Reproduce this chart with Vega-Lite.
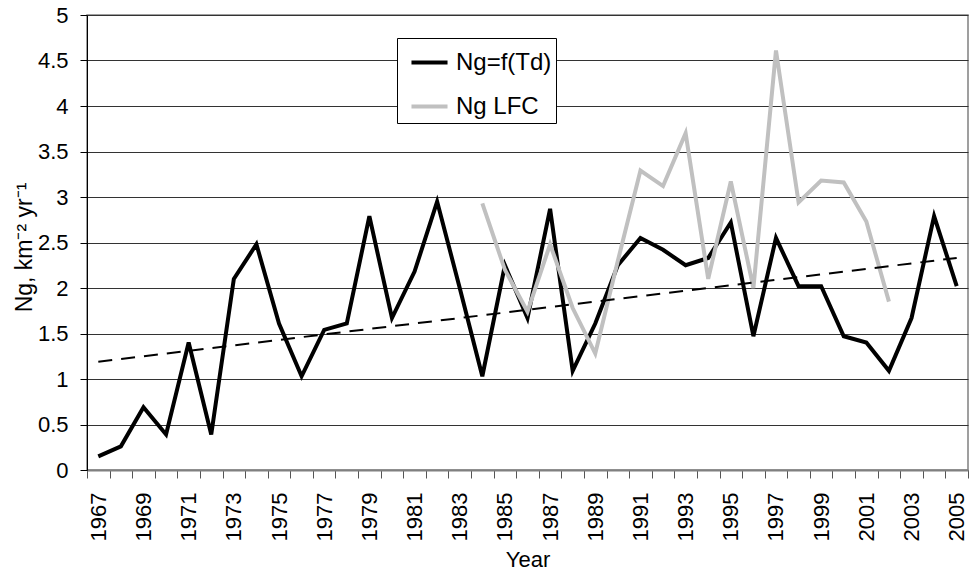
{
  "$schema": "https://vega.github.io/schema/vega-lite/v6.json",
  "width": 881,
  "height": 455,
  "autosize": {"type": "none"},
  "padding": {"left": 87, "top": 15, "right": 5, "bottom": 102},
  "background": "white",
  "config": {
    "font": "Liberation Sans",
    "view": {"stroke": "#808080", "strokeWidth": 1.5}
  },
  "data": {
    "values": [
      {"Year": 1967, "series": "Ng=f(Td)", "value": 0.15},
      {"Year": 1968, "series": "Ng=f(Td)", "value": 0.26},
      {"Year": 1969, "series": "Ng=f(Td)", "value": 0.69},
      {"Year": 1970, "series": "Ng=f(Td)", "value": 0.39},
      {"Year": 1971, "series": "Ng=f(Td)", "value": 1.40},
      {"Year": 1972, "series": "Ng=f(Td)", "value": 0.39},
      {"Year": 1973, "series": "Ng=f(Td)", "value": 2.10},
      {"Year": 1974, "series": "Ng=f(Td)", "value": 2.48},
      {"Year": 1975, "series": "Ng=f(Td)", "value": 1.61},
      {"Year": 1976, "series": "Ng=f(Td)", "value": 1.03},
      {"Year": 1977, "series": "Ng=f(Td)", "value": 1.54},
      {"Year": 1978, "series": "Ng=f(Td)", "value": 1.61},
      {"Year": 1979, "series": "Ng=f(Td)", "value": 2.79},
      {"Year": 1980, "series": "Ng=f(Td)", "value": 1.67},
      {"Year": 1981, "series": "Ng=f(Td)", "value": 2.18},
      {"Year": 1982, "series": "Ng=f(Td)", "value": 2.95},
      {"Year": 1983, "series": "Ng=f(Td)", "value": 2.00},
      {"Year": 1984, "series": "Ng=f(Td)", "value": 1.03},
      {"Year": 1985, "series": "Ng=f(Td)", "value": 2.25},
      {"Year": 1986, "series": "Ng=f(Td)", "value": 1.67},
      {"Year": 1987, "series": "Ng=f(Td)", "value": 2.87},
      {"Year": 1988, "series": "Ng=f(Td)", "value": 1.09},
      {"Year": 1989, "series": "Ng=f(Td)", "value": 1.61},
      {"Year": 1990, "series": "Ng=f(Td)", "value": 2.25},
      {"Year": 1991, "series": "Ng=f(Td)", "value": 2.55},
      {"Year": 1992, "series": "Ng=f(Td)", "value": 2.42},
      {"Year": 1993, "series": "Ng=f(Td)", "value": 2.25},
      {"Year": 1994, "series": "Ng=f(Td)", "value": 2.33},
      {"Year": 1995, "series": "Ng=f(Td)", "value": 2.72},
      {"Year": 1996, "series": "Ng=f(Td)", "value": 1.47},
      {"Year": 1997, "series": "Ng=f(Td)", "value": 2.55},
      {"Year": 1998, "series": "Ng=f(Td)", "value": 2.02},
      {"Year": 1999, "series": "Ng=f(Td)", "value": 2.02},
      {"Year": 2000, "series": "Ng=f(Td)", "value": 1.47},
      {"Year": 2001, "series": "Ng=f(Td)", "value": 1.40},
      {"Year": 2002, "series": "Ng=f(Td)", "value": 1.09},
      {"Year": 2003, "series": "Ng=f(Td)", "value": 1.67},
      {"Year": 2004, "series": "Ng=f(Td)", "value": 2.79},
      {"Year": 2005, "series": "Ng=f(Td)", "value": 2.02},
      {"Year": 1984, "series": "Ng LFC", "value": 2.93},
      {"Year": 1985, "series": "Ng LFC", "value": 2.20},
      {"Year": 1986, "series": "Ng LFC", "value": 1.74},
      {"Year": 1987, "series": "Ng LFC", "value": 2.48},
      {"Year": 1988, "series": "Ng LFC", "value": 1.78},
      {"Year": 1989, "series": "Ng LFC", "value": 1.28},
      {"Year": 1990, "series": "Ng LFC", "value": 2.30},
      {"Year": 1991, "series": "Ng LFC", "value": 3.29},
      {"Year": 1992, "series": "Ng LFC", "value": 3.12},
      {"Year": 1993, "series": "Ng LFC", "value": 3.70},
      {"Year": 1994, "series": "Ng LFC", "value": 2.10},
      {"Year": 1995, "series": "Ng LFC", "value": 3.17},
      {"Year": 1996, "series": "Ng LFC", "value": 2.00},
      {"Year": 1997, "series": "Ng LFC", "value": 4.61},
      {"Year": 1998, "series": "Ng LFC", "value": 2.94},
      {"Year": 1999, "series": "Ng LFC", "value": 3.18},
      {"Year": 2000, "series": "Ng LFC", "value": 3.16},
      {"Year": 2001, "series": "Ng LFC", "value": 2.73},
      {"Year": 2002, "series": "Ng LFC", "value": 1.85},
      {"Year": 1967, "series": "trend", "value": 1.19},
      {"Year": 2005, "series": "trend", "value": 2.33}
    ]
  },
  "encoding": {
    "x": {
      "field": "Year",
      "type": "ordinal",
      "scale": {"type": "band", "paddingInner": 0, "paddingOuter": 0},
      "axis": {
        "title": "Year",
        "titleFont": "Liberation Sans",
        "titleFontSize": 22,
        "titleFontWeight": "normal",
        "titleColor": "black",
        "titleBaseline": "alphabetic",
        "titleY": 96,
        "tickBand": "extent",
        "tickSize": 8,
        "tickColor": "#555555",
        "domainColor": "#808080",
        "domainWidth": 2,
        "labelAngle": 270,
        "labelAlign": "right",
        "labelBaseline": "middle",
        "labelPadding": 14,
        "labelFontSize": 22,
        "labelColor": "black",
        "labelOverlap": false,
        "labelExpr": "(datum.value - 1967) % 2 === 0 ? datum.label : ''",
        "grid": false
      }
    },
    "y": {
      "field": "value",
      "type": "quantitative",
      "scale": {"domain": [0, 5], "nice": false, "zero": true},
      "axis": {
        "title": "Ng, km⁻² yr⁻¹",
        "titleFontSize": 23,
        "titleFontWeight": "normal",
        "titleColor": "black",
        "titleX": -63,
        "titleY": 232,
        "titleAngle": 270,
        "titleAlign": "center",
        "titleBaseline": "middle",
        "values": [0, 0.5, 1, 1.5, 2, 2.5, 3, 3.5, 4, 4.5, 5],
        "format": "~g",
        "labelFontSize": 22,
        "labelColor": "black",
        "labelPadding": 12,
        "tickSize": 7,
        "tickColor": "black",
        "domainColor": "black",
        "grid": true,
        "gridColor": "#333333",
        "gridWidth": 1
      }
    }
  },
  "layer": [
    {
      "transform": [{"filter": "datum.series !== 'trend'"}],
      "mark": {"type": "line", "strokeWidth": 4, "strokeJoin": "miter"},
      "encoding": {
        "color": {
          "field": "series",
          "type": "nominal",
          "scale": {"domain": ["Ng=f(Td)", "Ng LFC"], "range": ["black", "#c0c0c0"]},
          "legend": {
            "title": null,
            "orient": "none",
            "legendX": 310,
            "legendY": 23,
            "direction": "vertical",
            "fillColor": "white",
            "strokeColor": "black",
            "padding": 4,
            "symbolOffset": 8,
            "symbolType": "stroke",
            "symbolStrokeWidth": 4,
            "symbolSize": 1300,
            "labelFontSize": 24,
            "labelColor": "black",
            "labelOffset": 6,
            "rowPadding": 11
          }
        }
      }
    },
    {
      "transform": [{"filter": "datum.series === 'trend'"}],
      "mark": {"type": "line", "color": "black", "strokeWidth": 2, "strokeDash": [14, 9]},
      "encoding": {}
    }
  ]
}
